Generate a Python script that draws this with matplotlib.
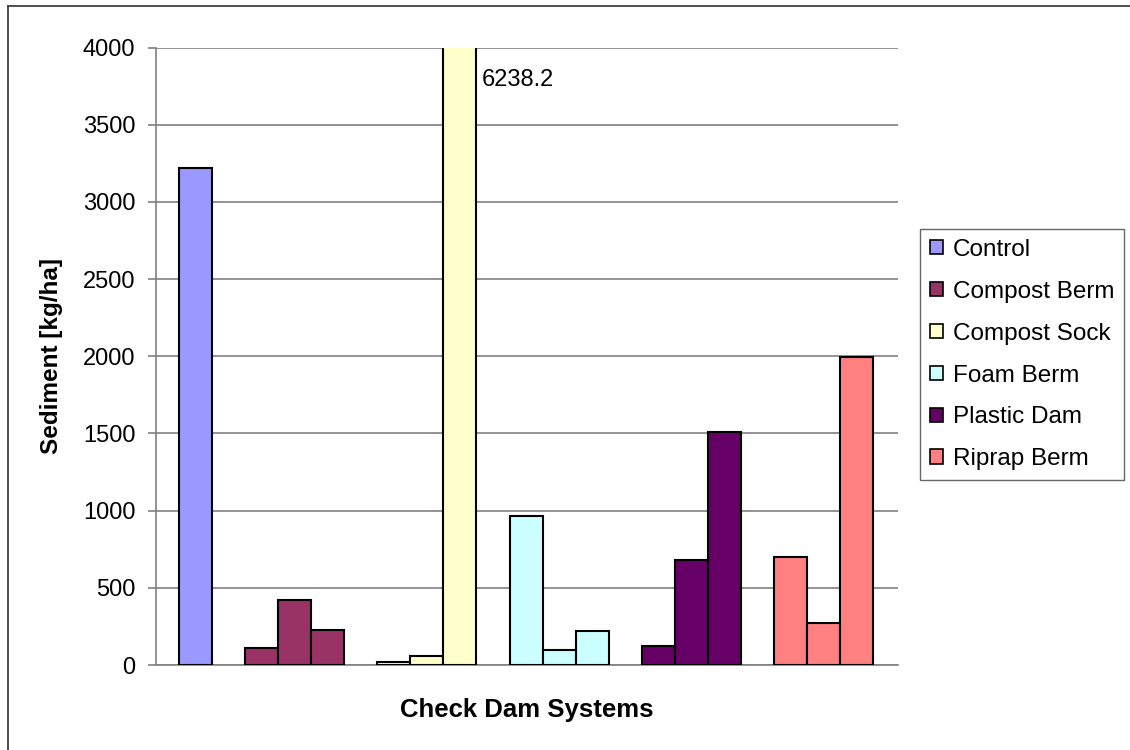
import matplotlib
matplotlib.use("Agg")
import matplotlib.pyplot as plt
from matplotlib.patches import Patch
from matplotlib.lines import Line2D

plt.rcParams['font.family'] = ['Liberation Sans', 'DejaVu Sans']

series = ["Control", "Compost Berm", "Compost Sock", "Foam Berm", "Plastic Dam", "Riprap Berm"]
colors = ["#9999FF", "#993366", "#FFFFCC", "#CCFFFF", "#660066", "#FF8080"]
values = {
    "Control": [3220],
    "Compost Berm": [112, 423, 229],
    "Compost Sock": [21, 60, 6238.2],
    "Foam Berm": [968, 97, 218],
    "Plastic Dam": [125, 682, 1509],
    "Riprap Berm": [697, 270, 1995],
}
yticks = [0, 500, 1000, 1500, 2000, 2500, 3000, 3500, 4000]

W, H = 1130, 750
fig = plt.figure(figsize=(W / 100, H / 100), dpi=100)
ax = fig.add_axes([156 / W, 1 - 665 / H, (898 - 156) / W, (665 - 47.5) / H])

pos = 0
handles = []
for name, col in zip(series, colors):
    vals = values[name]
    xs = list(range(pos, pos + len(vals)))
    ax.bar(xs, vals, width=1.0, color=col, edgecolor="black", linewidth=1.5, zorder=3)
    pos += len(vals) + 1
    handles.append(Patch(facecolor=col, edgecolor="black", linewidth=1.2, label=name))

ax.set_xlim(-1.21, 21.27)
ax.set_ylim(0, 4000)
ax.set_yticks(yticks)
ax.set_yticklabels([str(t) for t in yticks], fontsize=17)
ax.set_xticks([])
ax.grid(axis="y", color="#808080", linewidth=1.2, zorder=0)
for s in ["top", "right"]:
    ax.spines[s].set_visible(False)
for s in ["left", "bottom"]:
    ax.spines[s].set_color("#808080")
    ax.spines[s].set_linewidth(1.2)
ax.tick_params(axis="y", length=5.8, width=1.2, color="#808080", pad=9)

# annotation for the clipped bar
sock_x = 1 + 1 + 3 + 1 + 2
ax.annotate("6238.2", xy=(sock_x + 0.5, 3789), xytext=(4, 0), textcoords="offset points",
            fontsize=17, va="center", ha="left")

fig.text(52 / W, 1 - 356 / H, "Sediment [kg/ha]", rotation=90, fontsize=17.5,
         fontweight="bold", ha="center", va="center")
fig.text(527 / W, 1 - 710 / H, "Check Dam Systems", fontsize=18.5,
         fontweight="bold", ha="center", va="center")

leg = fig.legend(handles=handles, loc="upper left", bbox_to_anchor=(920 / W, 1 - 229 / H),
                 fontsize=17.5, frameon=True, fancybox=False, edgecolor="#404040",
                 handlelength=0.55, handleheight=0.55, handletextpad=0.4,
                 labelspacing=0.82, borderpad=0.4, borderaxespad=0)
leg.get_frame().set_linewidth(1.0)

# outer chart border
fig.add_artist(Line2D([8 / W, 8 / W], [0, 1 - 5.5 / H], transform=fig.transFigure,
                      color="#404040", linewidth=1.3))
fig.add_artist(Line2D([8 / W, 1], [1 - 5.5 / H, 1 - 5.5 / H], transform=fig.transFigure,
                      color="#404040", linewidth=1.3))

fig.savefig("out.png", dpi=100)
